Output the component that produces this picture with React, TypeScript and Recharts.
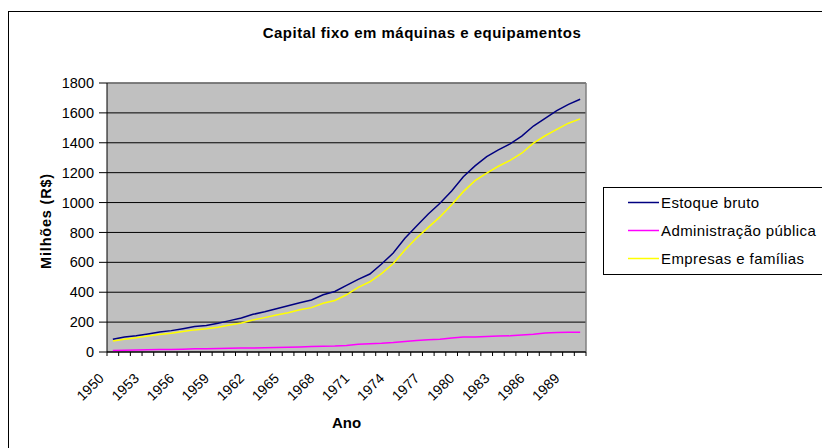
import React from "react";
import {
  LineChart,
  Line,
  XAxis,
  YAxis,
  CartesianGrid,
  ReferenceLine,
  Customized,
} from "recharts";

const years = [
  1950, 1951, 1952, 1953, 1954, 1955, 1956, 1957, 1958, 1959, 1960, 1961, 1962, 1963,
  1964, 1965, 1966, 1967, 1968, 1969, 1970, 1971, 1972, 1973, 1974, 1975, 1976, 1977,
  1978, 1979, 1980, 1981, 1982, 1983, 1984, 1985, 1986, 1987, 1988, 1989, 1990,
];

const estoqueBruto = [
  85, 100, 109, 121, 134, 143, 156, 170, 178, 192, 210, 227, 252, 270, 290, 310, 330,
  348, 383, 405, 446, 486, 522, 589, 662, 761, 843, 923, 995, 1077, 1173, 1245, 1307,
  1352, 1392, 1445, 1512, 1564, 1615, 1657, 1691,
];

const administracaoPublica = [
  10, 12, 14, 15, 16, 17, 19, 21, 22, 24, 25, 26, 27, 28, 30, 32, 34, 36, 38, 40, 44,
  52, 56, 59, 64, 71, 77, 82, 85, 94, 100, 101, 104, 107, 108, 113, 118, 127, 131, 132,
  132,
];

const empresasFamilias = [
  74, 85, 96, 107, 117, 126, 137, 148, 155, 165, 180, 194, 214, 230, 247, 263, 282, 297,
  326, 345, 383, 433, 470, 525, 592, 682, 763, 834, 904, 985, 1073, 1147, 1197, 1243,
  1282, 1330, 1397, 1447, 1490, 1531, 1560,
];

const yTicks = [0, 200, 400, 600, 800, 1000, 1200, 1400, 1600, 1800];

const seriesNames = ["Estoque bruto", "Administração pública", "Empresas e famílias"];
const seriesColors = ["#000080", "#FF00FF", "#FFFF00"];

const data = years.map((year, i) => ({
  i,
  year,
  estoque: estoqueBruto[i],
  admin: administracaoPublica[i],
  empresas: empresasFamilias[i],
}));

const xBoundaries = years.map((_, i) => i - 0.5).concat([years.length - 0.5]);

const FONT = '"Liberation Sans", Arial, sans-serif';

const XTick = (props: any) => {
  const { x, y, payload } = props;
  const idx = payload.value + 0.5;
  if (idx % 3 !== 0 || idx >= years.length) return <g />;
  const ax = x - 2;
  const ay = y + 21;
  return (
    <text
      x={ax}
      y={ay}
      transform={`rotate(-45, ${ax}, ${ay})`}
      textAnchor="end"
      fontSize={14}
      fontFamily={FONT}
      letterSpacing={0.2}
      fill="#000"
    >
      {years[idx]}
    </text>
  );
};

const Decorations = () => (
  <g>
    <rect x={0.5} y={3.5} width={900} height={600} fill="none" stroke="#000" strokeWidth={1} />
    <text
      x={414}
      y={30}
      textAnchor="middle"
      fontSize={15}
      fontWeight="bold"
      fontFamily={FONT}
      letterSpacing={0.5}
      fill="#000"
    >
      Capital fixo em máquinas e equipamentos
    </text>
    <text
      x={0}
      y={0}
      transform="translate(43, 213) rotate(-90)"
      textAnchor="middle"
      fontSize={14.5}
      fontWeight="bold"
      fontFamily={FONT}
      letterSpacing={0.8}
      fill="#000"
    >
      Milhões (R$)
    </text>
    <text
      x={338.5}
      y={420}
      textAnchor="middle"
      fontSize={15}
      fontWeight="bold"
      fontFamily={FONT}
      fill="#000"
    >
      Ano
    </text>
  </g>
);

const LegendBox = () => (
  <div
    style={{
      position: "absolute",
      left: 595,
      top: 179,
      width: 260,
      height: 86,
      border: "1px solid #000",
      background: "#fff",
      fontFamily: FONT,
      fontSize: 15,
      letterSpacing: 0.4,
    }}
  >
    {seriesNames.map((name, k) => (
      <div
        key={name}
        style={{
          position: "absolute",
          left: 0,
          top: 4 + k * 28,
          height: 20,
          display: "flex",
          alignItems: "center",
          whiteSpace: "nowrap",
        }}
      >
        <svg width={57} height={20} style={{ display: "block" }}>
          <line x1={24} y1={10.5} x2={55} y2={10.5} stroke={seriesColors[k]} strokeWidth={1.5} />
        </svg>
        <span style={{ color: "#000" }}>{name}</span>
      </div>
    ))}
  </div>
);

export default function App() {
  return (
    <div style={{ width: 822, height: 440, overflow: "hidden", position: "relative" }}>
      <LineChart
        width={822}
        height={440}
        data={data}
        margin={{ top: 75, right: 244, bottom: 0, left: 0 }}
        style={{ fontFamily: FONT }}
      >
        <Customized component={Decorations} />
        <CartesianGrid
          vertical={false}
          stroke="#000"
          strokeWidth={1}
          fill="#C0C0C0"
          fillOpacity={1}
        />
        <ReferenceLine y={1800} stroke="#808080" strokeWidth={1.5} ifOverflow="visible" />
        <ReferenceLine x={40.5} stroke="#808080" strokeWidth={1.5} ifOverflow="visible" />
        <XAxis
          type="number"
          dataKey="i"
          domain={[-0.5, 40.5]}
          ticks={xBoundaries}
          interval={0}
          tickSize={4}
          tickMargin={2}
          height={96}
          stroke="#000"
          tickLine={{ stroke: "#000" }}
          axisLine={{ stroke: "#000" }}
          tick={<XTick />}
          allowDataOverflow
        />
        <YAxis
          type="number"
          domain={[0, 1800]}
          ticks={yTicks}
          interval={0}
          width={99}
          tickSize={8}
          tickMargin={5}
          stroke="#000"
          axisLine={{ stroke: "#000" }}
          tickLine={{ stroke: "#000" }}
          tick={{ fill: "#000", fontSize: 14.5, fontFamily: FONT }}
        />
        <Line
          type="linear"
          dataKey="estoque"
          name={seriesNames[0]}
          stroke={seriesColors[0]}
          strokeWidth={1.5}
          dot={false}
          isAnimationActive={false}
        />
        <Line
          type="linear"
          dataKey="admin"
          name={seriesNames[1]}
          stroke={seriesColors[1]}
          strokeWidth={1.5}
          dot={false}
          isAnimationActive={false}
        />
        <Line
          type="linear"
          dataKey="empresas"
          name={seriesNames[2]}
          stroke={seriesColors[2]}
          strokeWidth={1.5}
          dot={false}
          isAnimationActive={false}
        />
      </LineChart>
      <LegendBox />
    </div>
  );
}
